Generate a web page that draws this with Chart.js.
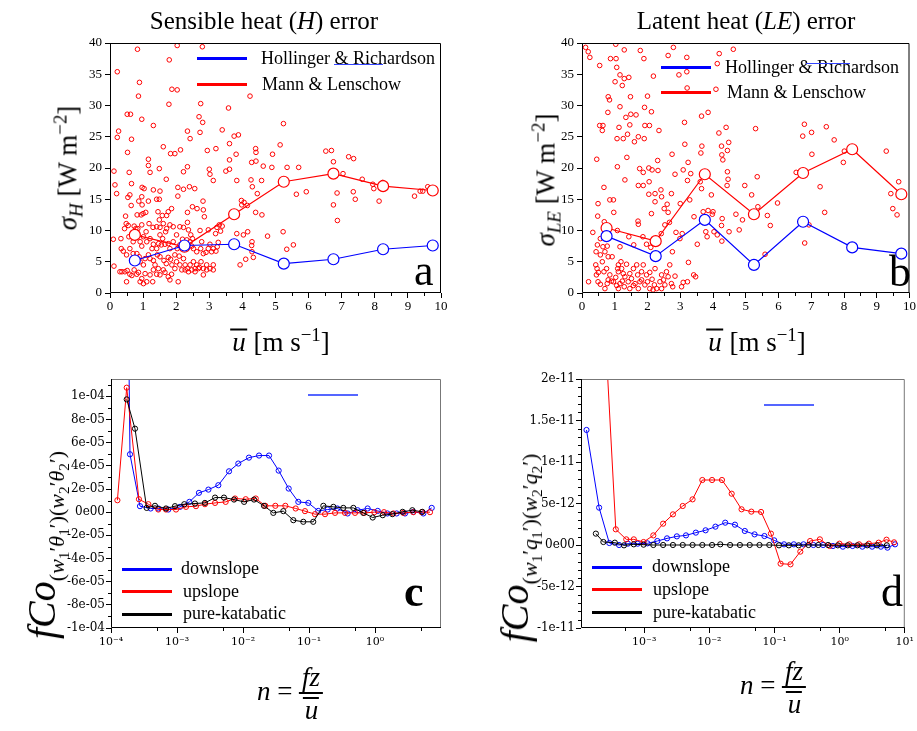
<!DOCTYPE html>
<html>
<head>
<meta charset="utf-8">
<script src="https://cdn.jsdelivr.net/npm/chart.js@4.4.0/dist/chart.umd.min.js"></script>
<style>
body{margin:0;background:#fff;width:917px;height:731px;position:relative;overflow:hidden;font-family:'Liberation Serif',serif;color:#000}
canvas{position:absolute}
.t{position:absolute;white-space:nowrap;line-height:1}
.c{transform:translate(-50%,-50%)}
.r{transform:translate(-50%,-50%) rotate(-90deg)}
.l{transform:translate(0,-50%)}
.key{position:absolute;height:3px;width:50px}
.thin{position:absolute;height:1px}
sub,sup{font-size:0.7em;line-height:0}
.frac{display:inline-flex;flex-direction:column;align-items:center;vertical-align:middle}
.frac .num{border-bottom:2px solid #000;padding:0 3px 1px;line-height:1}
.frac .den{line-height:1;padding-top:3px}
.ub{display:inline-block;border-top:2px solid #000;line-height:0.7;padding:2px 1px 0 2px}
</style>
</head>
<body>
<canvas id="chartA" width="458" height="300" style="left:0;top:30px"></canvas>
<canvas id="chartB" width="447" height="300" style="left:470px;top:30px"></canvas>
<canvas id="chartC" width="458" height="300" style="left:0;top:370px"></canvas>
<canvas id="chartD" width="447" height="300" style="left:470px;top:370px"></canvas>

<div class="t c" style="left:264px;top:20px;font-size:25px">Sensible heat (<i>H</i>) error</div>
<div class="t c" style="left:746px;top:20px;font-size:25px">Latent heat (<i>LE</i>) error</div>

<div class="t r" style="left:68px;top:168px;font-size:27px"><i>σ</i><sub><i>H</i></sub> [W m<sup>−2</sup>]</div>
<div class="t r" style="left:546px;top:180px;font-size:27px"><i>σ</i><sub><i>LE</i></sub> [W m<sup>−2</sup>]</div>
<div class="t c" style="left:280px;top:342px;font-size:27px"><i class="ub">u</i> [m s<sup>−1</sup>]</div>
<div class="t c" style="left:756px;top:342px;font-size:27px"><i class="ub">u</i> [m s<sup>−1</sup>]</div>

<div class="t r" style="left:42px;top:545px;font-size:40px"><i>fCo</i><span style="font-size:22px;position:relative;top:9px">(<i>w</i><sub>1</sub>′<i>θ</i><sub>1</sub>′)(<i>w</i><sub>2</sub>′<i>θ</i><sub>2</sub>′)</span></div>
<div class="t r" style="left:515px;top:548px;font-size:40px"><i>fCo</i><span style="font-size:22px;position:relative;top:9px">(<i>w</i><sub>1</sub>′<i>q</i><sub>1</sub>′)(<i>w</i><sub>2</sub>′<i>q</i><sub>2</sub>′)</span></div>
<div class="t c" style="left:290px;top:694px;font-size:27px"><i>n</i> = <span class="frac"><span class="num"><i>fz</i></span><span class="den"><i class="ub">u</i></span></span></div>
<div class="t c" style="left:773px;top:688px;font-size:27px"><i>n</i> = <span class="frac"><span class="num"><i>fz</i></span><span class="den"><i class="ub">u</i></span></span></div>

<div class="key" style="left:197px;top:57px;background:#0000ff"></div>
<div class="t l" style="left:261px;top:58px;font-size:18px">Hollinger &amp; Richardson</div>
<div class="thin" style="left:334px;top:64px;width:49px;background:#3344ff"></div>
<div class="key" style="left:197px;top:83px;background:#ff0000"></div>
<div class="t l" style="left:262px;top:84px;font-size:18px">Mann &amp; Lenschow</div>

<div class="key" style="left:661px;top:66px;background:#0000ff"></div>
<div class="t l" style="left:725px;top:67px;font-size:18px">Hollinger &amp; Richardson</div>
<div class="thin" style="left:806px;top:63px;width:44px;background:#3344ff"></div>
<div class="key" style="left:661px;top:91px;background:#ff0000"></div>
<div class="t l" style="left:727px;top:92px;font-size:18px">Mann &amp; Lenschow</div>

<div class="key" style="left:122px;top:568px;background:#0000ff"></div>
<div class="t l" style="left:181px;top:568px;font-size:18px">downslope</div>
<div class="key" style="left:122px;top:590px;background:#ff0000"></div>
<div class="t l" style="left:183px;top:591px;font-size:18px">upslope</div>
<div class="key" style="left:122px;top:613px;background:#000"></div>
<div class="t l" style="left:183px;top:613px;font-size:18px">pure-katabatic</div>
<div class="thin" style="left:308px;top:394px;width:50px;height:2px;background:#5566ff"></div>

<div class="key" style="left:592px;top:566px;background:#0000ff"></div>
<div class="t l" style="left:652px;top:566px;font-size:18px">downslope</div>
<div class="key" style="left:592px;top:588px;background:#ff0000"></div>
<div class="t l" style="left:653px;top:589px;font-size:18px">upslope</div>
<div class="key" style="left:592px;top:611px;background:#000"></div>
<div class="t l" style="left:653px;top:612px;font-size:18px">pure-katabatic</div>
<div class="thin" style="left:764px;top:404px;width:50px;height:2px;background:#5566ff"></div>

<div class="t" style="left:414px;top:249px;font-size:44px">a</div>
<div class="t" style="left:889px;top:250px;font-size:44px">b</div>
<div class="t" style="left:404px;top:570px;font-size:44px;font-weight:bold">c</div>
<div class="t" style="left:881px;top:570px;font-size:44px">d</div>

<script>
// bin centres of the averaged curves (wind speed, m/s)
var binU = [0.75, 2.25, 3.75, 5.25, 6.75, 8.25, 9.75];
var aHollinger = [5.2, 7.6, 7.8, 4.7, 5.4, 7.0, 7.6];
var aMann = [9.3, 7.4, 12.6, 17.8, 19.1, 17.1, 16.4];
var bHollinger = [9.1, 5.9, 11.7, 4.5, 11.4, 7.3, 6.3];
var bMann = [10.4, 8.3, 19.0, 12.6, 19.2, 23.0, 15.8];

// individual runs [u, sigma]
var aRuns = [[0.83,39.0],[2.03,39.6],[2.79,39.4],[0.22,35.4],[1.79,37.3],[0.89,33.7],[0.86,31.5],[1.87,32.6],[2.03,32.5],[0.96,27.8],[1.78,30.2],[2.74,30.3],[3.58,29.6],[4.23,31.5],[0.52,28.6],[0.62,28.6],[0.26,25.9],[0.22,24.9],[1.31,26.8],[0.65,24.6],[2.34,25.9],[2.42,24.7],[2.72,25.7],[2.80,27.3],[2.69,28.2],[3.39,26.1],[3.75,25.1],[3.88,25.3],[3.61,23.9],[5.14,23.7],[5.24,27.1],[4.40,23.1],[4.41,22.5],[4.28,20.9],[4.41,21.1],[0.53,22.5],[1.61,23.4],[1.83,22.3],[1.96,22.3],[2.13,22.9],[2.94,22.8],[3.20,23.1],[4.91,22.2],[6.52,22.7],[6.69,22.8],[7.21,21.8],[7.36,21.5],[3.81,22.2],[3.61,21.3],[0.12,19.5],[0.58,19.3],[1.16,21.4],[1.16,20.4],[1.21,19.3],[1.49,19.9],[1.70,18.2],[2.22,19.4],[2.34,20.2],[3.00,19.8],[3.02,19.0],[3.12,18.0],[3.50,19.5],[3.61,19.8],[3.83,18.0],[4.26,18.1],[4.30,17.0],[4.58,18.0],[4.63,20.3],[4.89,20.1],[5.35,20.1],[5.70,20.1],[6.75,21.0],[7.04,19.1],[7.62,18.2],[7.94,17.4],[7.97,16.7],[8.24,17.7],[7.35,16.2],[7.41,15.0],[0.15,17.3],[0.20,15.9],[0.10,8.6],[0.12,4.3],[0.65,17.5],[0.54,15.3],[0.60,15.7],[0.64,14.0],[0.97,16.9],[1.03,16.7],[0.96,15.4],[0.97,14.1],[1.31,16.5],[0.87,14.7],[0.82,12.5],[0.94,12.5],[1.00,12.7],[1.08,12.9],[1.16,14.7],[1.41,15.0],[1.49,15.0],[1.51,16.3],[1.45,13.0],[1.58,12.4],[1.71,12.4],[1.76,13.0],[1.86,13.5],[2.05,16.9],[2.05,15.5],[2.22,16.6],[2.34,12.9],[2.49,13.8],[2.63,13.5],[2.81,14.7],[2.82,13.3],[2.85,12.2],[2.40,17.0],[2.56,16.7],[4.05,14.5],[3.97,14.8],[3.98,14.1],[4.15,14.0],[4.45,15.9],[4.40,12.9],[4.59,12.5],[5.63,15.8],[5.93,16.2],[6.75,14.1],[6.86,16.0],[6.87,11.6],[8.13,14.7],[9.20,15.5],[9.37,16.3],[9.45,16.3],[9.60,17.0],
  [0.44,10.3],[0.47,12.3],[0.49,11.1],[0.55,10.8],[0.57,9.0],[0.73,10.7],[0.78,10.3],[0.84,10.3],[0.96,10.9],[1.09,9.8],[1.18,11.1],[1.30,10.5],[1.41,10.6],[1.51,10.5],[1.49,11.7],[1.61,11.1],[1.68,9.8],[1.71,10.3],[1.81,10.9],[1.91,10.6],[2.11,10.6],[2.22,10.5],[2.34,11.3],[2.37,10.1],[2.44,9.3],[2.49,8.7],[2.72,10.0],[2.97,10.1],[3.19,9.5],[3.23,10.5],[3.30,10.9],[3.34,9.9],[3.39,10.7],[3.83,9.5],[4.03,9.3],[4.16,9.8],[4.29,8.2],[4.28,7.6],[4.29,6.6],[4.76,9.1],[5.23,9.8],[5.54,7.7],[5.34,7.0],[4.33,5.7],[3.93,4.5],[4.10,5.4],
  [0.33,8.7],[0.34,7.1],[0.40,6.7],[0.50,6.1],[0.60,7.1],[0.70,8.2],[0.74,9.3],[0.84,9.4],[0.91,8.2],[0.96,7.5],[1.01,9.0],[1.11,8.2],[1.21,8.7],[1.27,7.1],[1.31,7.8],[1.41,7.1],[1.47,7.9],[1.51,9.3],[1.55,7.7],[1.59,8.7],[1.66,7.8],[1.76,7.9],[1.81,7.1],[1.91,8.2],[2.01,9.3],[2.03,7.1],[2.11,7.7],[2.19,8.6],[2.32,8.5],[2.42,8.2],[2.47,7.5],[2.52,7.1],[2.62,6.6],[2.74,7.1],[2.77,8.2],[2.82,6.3],[2.90,6.5],[2.97,7.1],[3.02,7.8],[3.07,6.6],[3.12,7.1],[3.20,6.7],[3.24,7.4],[3.27,8.1],[0.70,6.3],[0.81,6.3],[0.88,5.8],[0.91,5.0],[1.01,4.5],[1.06,5.5],[1.16,6.1],[1.21,5.5],[1.31,5.2],[1.36,4.5],[1.43,6.1],[1.51,5.8],[1.63,5.2],[1.70,4.7],[1.76,5.7],[1.83,5.4],[1.87,4.5],[1.96,6.1],[2.01,5.0],[2.09,5.9],[2.11,4.5],[2.22,5.5],[2.27,4.5],[2.34,3.9],[2.42,4.5],[2.52,5.0],[2.57,3.9],[2.62,4.5],[2.70,4.1],[2.75,5.0],[2.82,3.9],[2.92,4.5],[3.02,3.9],[3.12,4.5],[0.30,3.4],[0.36,3.4],[0.45,3.4],[0.50,1.8],[0.52,3.6],[0.60,3.0],[0.66,2.8],[0.73,3.7],[0.81,3.0],[0.86,3.3],[0.91,1.8],[1.01,1.5],[0.96,2.3],[1.06,3.1],[1.11,1.8],[1.21,2.9],[1.29,1.8],[1.31,3.7],[1.41,3.0],[1.46,3.9],[1.51,2.9],[1.61,3.7],[1.66,3.3],[1.76,2.6],[1.81,2.1],[1.86,3.0],[1.96,3.9],[2.06,1.8],[2.17,3.7],[2.27,3.7],[2.37,3.4],[2.47,3.7],[2.57,3.4],[2.67,3.9],[2.82,2.9],[2.92,3.7],[3.12,3.7]];

var bRuns = [[0.11,39.3],[0.19,38.6],[0.24,37.7],[0.54,36.4],[1.03,39.8],[1.29,38.9],[1.78,38.8],[1.89,37.5],[2.79,39.3],[2.63,38.0],[3.20,37.7],[4.13,36.7],[4.19,38.3],[4.62,39.0],[0.87,37.5],[1.04,37.5],[1.06,36.1],[1.16,34.9],[1.01,33.8],[1.23,33.2],[1.29,34.3],[1.43,34.5],[1.48,31.4],[0.80,31.4],[0.84,30.9],[0.79,28.9],[2.00,31.5],[2.12,29.0],[1.91,29.7],[1.65,28.5],[1.49,28.6],[1.34,28.1],[1.16,29.8],[2.18,34.7],[2.96,34.9],[3.20,35.4],[3.21,32.8],[4.09,32.6],[3.65,28.3],[3.85,28.9],[3.13,27.3],[4.18,25.6],[4.40,26.5],[0.54,26.8],[0.64,26.8],[0.62,26.0],[1.13,26.5],[1.07,24.7],[1.26,24.7],[1.39,25.4],[1.46,26.9],[1.60,24.2],[1.72,25.0],[1.92,26.8],[2.06,26.8],[1.90,24.7],[2.35,26.0],[4.48,24.1],[4.44,22.8],[4.26,23.5],[4.27,22.1],[4.30,21.3],[5.30,26.3],[6.79,27.0],[6.74,25.1],[7.01,25.7],[7.46,26.6],[7.70,24.5],[9.29,22.7],[7.02,22.2],[8.01,22.7],[7.98,20.9],[0.45,21.4],[1.37,21.7],[1.08,20.2],[1.31,18.1],[1.76,19.9],[1.87,19.3],[2.04,20.0],[2.14,19.7],[2.31,21.2],[2.32,19.6],[2.75,22.2],[2.84,19.0],[3.09,19.7],[3.14,23.8],[3.24,20.9],[3.22,18.0],[3.32,19.1],[3.63,22.4],[3.66,23.5],[3.61,17.8],[4.44,19.4],[4.46,18.2],[4.97,17.2],[5.35,18.6],[6.54,19.3],[7.27,17.0],[9.43,15.9],[9.67,17.8],[0.67,16.9],[0.85,14.9],[0.96,14.9],[0.49,14.3],[0.48,12.3],[0.97,12.9],[1.72,17.2],[1.87,17.2],[2.05,17.8],[2.04,15.8],[2.23,15.9],[2.41,16.5],[2.43,15.4],[2.23,14.6],[2.12,12.7],[2.51,13.5],[2.63,12.9],[2.60,14.2],[2.73,15.9],[3.00,14.3],[3.29,14.9],[3.42,12.2],[3.65,16.7],[3.70,13.0],[3.95,15.7],[4.00,13.0],[4.26,10.8],[4.28,11.9],[4.43,17.2],[4.70,12.6],[4.90,11.7],[5.18,15.7],[5.37,13.8],[5.66,12.4],[5.75,10.8],[5.97,14.4],[7.41,12.9],[9.49,13.5],[9.62,12.5],[6.80,8.0],[5.59,6.2],[6.93,10.9],[0.33,9.7],[0.47,7.7],[0.56,8.7],[0.64,7.4],[0.77,7.5],[0.81,10.1],[0.68,11.4],[1.08,10.0],[1.16,7.4],[1.43,9.0],[1.58,7.7],[1.71,11.5],[1.72,11.0],[1.86,9.0],[1.97,7.8],[2.10,7.3],[2.42,9.5],[2.53,10.9],[2.67,11.3],[2.87,9.7],[2.99,8.7],[2.76,6.6],[3.06,9.5],[3.25,4.9],[3.52,7.8],[3.78,9.8],[3.82,9.0],[4.03,9.8],[4.13,9.3],[4.27,8.3],[4.49,9.8],[4.80,10.1],[3.85,13.2],[3.98,12.6],
  [0.42,4.5],[0.46,3.9],[0.50,3.3],[0.44,2.9],[0.62,5.0],[0.67,3.4],[0.75,3.9],[0.80,2.1],[0.85,2.9],[0.90,1.9],[0.92,5.8],[0.96,1.8],[1.03,2.5],[1.09,3.9],[1.11,4.5],[1.19,5.0],[1.21,3.9],[1.26,3.1],[1.31,2.6],[1.36,4.6],[1.41,1.8],[1.46,3.1],[1.51,2.3],[1.57,3.9],[1.62,1.5],[1.67,4.5],[1.70,2.9],[1.77,1.8],[1.82,3.4],[1.87,4.5],[1.92,1.3],[1.97,2.9],[2.00,1.8],[2.07,3.3],[2.14,2.2],[2.21,1.3],[2.23,3.9],[2.28,0.7],[2.38,1.8],[2.43,2.9],[2.49,2.1],[2.58,3.4],[2.63,2.6],[2.68,4.5],[2.77,1.0],[2.84,2.7],[3.04,1.0],[3.09,1.7],[3.22,1.8],[3.41,2.9],[3.47,2.6],[0.20,1.8],[0.49,1.8],[0.56,1.4],[0.70,0.7],[0.77,1.5],[1.06,1.2],[1.11,0.7],[1.16,1.5],[1.23,1.9],[1.29,1.0],[1.46,0.7],[1.57,1.2],[1.72,0.7],[1.82,2.1],[2.07,0.7],[2.17,0.5],[2.43,0.7],[2.53,1.3],[2.73,1.5],[0.70,6.6],[0.80,5.8],[1.11,3.4],[0.43,6.6],[0.56,6.1]];

// co-spectra, panel c (heat flux)
var cDownN = [1.73e-4, 1.94e-4, 2.75e-4, 3.99e-4, 5.21e-4, 7.39e-4, 1.11e-3, 1.54e-3, 2.15e-3, 2.99e-3, 4.23e-3, 6.14e-3, 8.49e-3, 1.23e-2, 1.75e-2, 2.48e-2, 3.47e-2, 4.92e-2, 6.89e-2, 9.77e-2, 0.138, 0.192, 0.269, 0.385, 0.546, 0.774, 1.10, 1.54, 2.13, 2.85, 3.81, 5.40, 7.23];
var cDownV = [30e-5, 5.0e-5, 0.52e-5, 0.32e-5, 0.32e-5, 0.23e-5, 0.46e-5, 0.89e-5, 1.67e-5, 1.95e-5, 2.33e-5, 3.53e-5, 4.20e-5, 4.71e-5, 4.89e-5, 4.89e-5, 3.59e-5, 2.04e-5, 0.89e-5, 0.80e-5, 0.11e-5, 0.23e-5, 0.32e-5, -0.11e-5, 0.17e-5, 0.32e-5, 0.11e-5, -0.11e-5, -0.11e-5, -0.11e-5, 0.03e-5, -0.11e-5, 0.37e-5];
var cUpN = [1.25e-4, 1.73e-4, 2.65e-4, 3.68e-4, 5.21e-4, 6.81e-4, 9.66e-4, 1.37e-3, 1.94e-3, 2.65e-3, 3.77e-3, 5.46e-3, 7.57e-3, 1.10e-2, 1.56e-2, 2.18e-2, 3.09e-2, 4.38e-2, 6.28e-2, 8.69e-2, 0.123, 0.175, 0.248, 0.351, 0.498, 0.689, 0.977, 1.37, 1.90, 2.69, 3.81, 5.09, 6.81];
var cUpV = [1.03e-5, 10.75e-5, 1.12e-5, 0.69e-5, 0.23e-5, 0.23e-5, 0.23e-5, 0.46e-5, 0.52e-5, 0.69e-5, 0.80e-5, 0.89e-5, 1.18e-5, 1.12e-5, 1.18e-5, 0.55e-5, 0.55e-5, 0.55e-5, 0.32e-5, 0.09e-5, -0.17e-5, -0.17e-5, -0.06e-5, -0.06e-5, -0.06e-5, -0.06e-5, 0, 0, -0.11e-5, -0.06e-5, 0, 0, 0];
var cKatN = [1.73e-4, 2.31e-4, 3.47e-4, 4.64e-4, 6.81e-4, 9.33e-4, 1.29e-3, 1.87e-3, 2.65e-3, 3.77e-3, 5.15e-3, 7.31e-3, 1.04e-2, 1.47e-2, 2.08e-2, 2.88e-2, 4.08e-2, 5.79e-2, 8.20e-2, 0.116, 0.165, 0.234, 0.331, 0.470, 0.665, 0.923, 1.31, 1.83, 2.62, 3.68, 5.21];
var cKatV = [9.74e-5, 7.21e-5, 0.37e-5, 0.55e-5, 0.32e-5, 0.52e-5, 0.69e-5, 0.75e-5, 0.80e-5, 1.26e-5, 1.26e-5, 1.09e-5, 0.89e-5, 1.09e-5, 0.55e-5, -0.06e-5, 0.09e-5, -0.69e-5, -0.83e-5, -0.83e-5, 0.55e-5, 0.46e-5, 0.37e-5, 0.37e-5, -0.06e-5, -0.46e-5, -0.26e-5, -0.17e-5, 0.03e-5, 0.17e-5, 0.03e-5];

// co-spectra, panel d (moisture flux)
var dDownN = [1.30e-4, 2.03e-4, 2.91e-4, 4.11e-4, 5.61e-4, 7.94e-4, 1.12e-3, 1.59e-3, 2.24e-3, 3.17e-3, 4.38e-3, 6.20e-3, 8.75e-3, 1.24e-2, 1.75e-2, 2.47e-2, 3.50e-2, 4.94e-2, 7.00e-2, 9.89e-2, 0.140, 0.198, 0.279, 0.395, 0.558, 0.789, 1.12, 1.58, 2.23, 3.15, 4.30, 5.42, 7.08];
var dDownV = [13.86e-12, 4.50e-12, 0.24e-12, 0, 0.16e-12, 0.16e-12, 0.20e-12, 0.48e-12, 0.80e-12, 1.04e-12, 1.16e-12, 1.49e-12, 1.77e-12, 2.21e-12, 2.69e-12, 2.45e-12, 1.69e-12, 1.28e-12, 1.08e-12, 0.56e-12, 0.08e-12, 0.08e-12, 0.08e-12, 0, 0, -0.12e-12, -0.20e-12, -0.12e-12, -0.20e-12, -0.20e-12, -0.20e-12, -0.32e-12, 0.08e-12];
var dUpN = [2.59e-4, 3.66e-4, 5.30e-4, 6.92e-4, 9.77e-4, 1.38e-3, 1.95e-3, 2.76e-3, 3.90e-3, 5.52e-3, 7.80e-3, 1.10e-2, 1.56e-2, 2.20e-2, 3.12e-2, 4.41e-2, 6.22e-2, 8.81e-2, 0.124, 0.176, 0.249, 0.352, 0.497, 0.703, 0.993, 1.41, 1.99, 2.81, 3.97, 5.24, 6.84];
var dUpV = [24e-12, 1.89e-12, 0.68e-12, 0.68e-12, 0.36e-12, 1.16e-12, 2.57e-12, 3.69e-12, 4.70e-12, 5.50e-12, 7.83e-12, 7.83e-12, 7.83e-12, 6.18e-12, 4.30e-12, 4.02e-12, 3.98e-12, 1.37e-12, -2.25e-12, -2.33e-12, -0.80e-12, 0.48e-12, 0.68e-12, -0.12e-12, 0.16e-12, 0.08e-12, 0.08e-12, 0.16e-12, 0.28e-12, 0.64e-12, 0.32e-12];
var dKatN = [1.81e-4, 2.36e-4, 3.54e-4, 4.89e-4, 6.92e-4, 9.77e-4, 1.38e-3, 1.95e-3, 2.76e-3, 3.90e-3, 5.52e-3, 7.80e-3, 1.10e-2, 1.47e-2, 2.08e-2, 2.94e-2, 4.16e-2, 5.88e-2, 8.32e-2, 0.117, 0.166, 0.235, 0.332, 0.470, 0.664, 0.938, 1.33, 1.87, 2.65, 3.75, 5.30];
var dKatV = [1.37e-12, 0.36e-12, 0.28e-12, -0.04e-12, 0.08e-12, 0.04e-12, 0, 0, 0, 0, 0, 0, 0, 0.08e-12, 0, 0, 0, 0, 0, -0.04e-12, -0.04e-12, -0.04e-12, 0, 0, 0, -0.04e-12, -0.04e-12, -0.04e-12, -0.04e-12, -0.04e-12, -0.04e-12];

// tick values
var uTicks = [0,1,2,3,4,5,6,7,8,9,10];
var sigmaTicks = [0,5,10,15,20,25,30,35,40];
var cXTicks = [1e-4, 1e-3, 1e-2, 1e-1, 1];
var dXTicks = [1e-3, 1e-2, 1e-1, 1, 10];
var cYTicks = [-1e-4, -8e-5, -6e-5, -4e-5, -2e-5, 0, 2e-5, 4e-5, 6e-5, 8e-5, 1e-4];
var dYTicks = [-1e-11, -5e-12, 0, 5e-12, 1e-11, 1.5e-11, 2e-11];

var SUP = {'-4':'⁻⁴','-3':'⁻³','-2':'⁻²','-1':'⁻¹','0':'⁰','1':'¹'};

function pts(xs, ys) { return xs.map(function(x, i) { return {x: x, y: ys[i]}; }); }
function pairs(arr) { return arr.map(function(p) { return {x: p[0], y: p[1]}; }); }
function sci(v) {
  if (v === 0) return '0e00';
  var e = Math.floor(Math.log10(Math.abs(v)) + 1e-9);
  var m = +(v / Math.pow(10, e)).toFixed(2);
  return m + 'e' + (e < 0 ? '-' : '') + String(Math.abs(e)).padStart(2, '0');
}
function dec(v) { var e = Math.round(Math.log10(v)); return '10' + SUP[String(e)]; }

// frame + minor ticks
Chart.register({
  id: 'frame',
  afterDraw: function(chart, args, o) {
    var ctx = chart.ctx, a = chart.chartArea, sx = chart.scales.x, sy = chart.scales.y;
    ctx.save();
    ctx.lineWidth = 1;
    ctx.strokeStyle = '#000';
    ctx.beginPath();
    (o.xMinor || []).forEach(function(v) {
      var x = Math.round(sx.getPixelForValue(v)) + 0.5;
      ctx.moveTo(x, a.bottom); ctx.lineTo(x, a.bottom + 3);
    });
    (o.yMinor || []).forEach(function(v) {
      var y = Math.round(sy.getPixelForValue(v)) + 0.5;
      ctx.moveTo(a.left, y); ctx.lineTo(a.left - 3, y);
    });
    ctx.stroke();
    ctx.strokeStyle = o.far || '#000';
    ctx.beginPath();
    ctx.moveTo(a.left, a.top + 0.5); ctx.lineTo(a.right - 0.5, a.top + 0.5); ctx.lineTo(a.right - 0.5, a.bottom);
    ctx.stroke();
    ctx.strokeStyle = '#000';
    ctx.beginPath();
    ctx.moveTo(a.left + 0.5, a.top); ctx.lineTo(a.left + 0.5, a.bottom - 0.5); ctx.lineTo(a.right, a.bottom - 0.5);
    ctx.stroke();
    ctx.restore();
  }
});

function axis(opts) {
  return {
    type: opts.type || 'linear',
    min: opts.min, max: opts.max,
    afterBuildTicks: function(s) { s.ticks = opts.ticks.map(function(v) { return {value: v}; }); },
    afterFit: function(s) { if (opts.w) s.width = opts.w; if (opts.h) s.height = opts.h; },
    grid: {drawOnChartArea: false, color: '#000', tickLength: 5},
    border: {display: false},
    ticks: {color: '#000', autoSkip: false, maxRotation: 0, padding: opts.pad || 2,
            font: {family: opts.font, size: opts.size}, callback: opts.fmt}
  };
}

function errorChart(id, runs, hr, ml, yw, pad) {
  return new Chart(document.getElementById(id), {
    type: 'scatter',
    data: {datasets: [
      {data: pts(binU, hr), showLine: true, borderColor: '#0000ff', borderWidth: 1.2, pointRadius: 5.5,
       pointBorderColor: '#0000ff', pointBackgroundColor: '#fff', pointBorderWidth: 1.2, order: 1},
      {data: pts(binU, ml), showLine: true, borderColor: '#ff0000', borderWidth: 1.2, pointRadius: 5.5,
       pointBorderColor: '#ff0000', pointBackgroundColor: '#fff', pointBorderWidth: 1.2, order: 2},
      {data: pairs(runs), pointRadius: 2.3, pointBorderColor: '#ff0000', pointBackgroundColor: 'rgba(0,0,0,0)',
       pointBorderWidth: 1, order: 3}
    ]},
    options: {
      responsive: false, animation: false, events: [],
      layout: {padding: pad, autoPadding: false},
      plugins: {legend: {display: false}, tooltip: {enabled: false},
                frame: {xMinor: [0.5,1.5,2.5,3.5,4.5,5.5,6.5,7.5,8.5,9.5]}},
      scales: {
        x: axis({min: 0, max: 10, ticks: uTicks, h: 30, font: 'Liberation Serif', size: 13, pad: 1,
                 fmt: function(v) { return String(v); }}),
        y: axis({min: 0, max: 40, ticks: sigmaTicks, w: yw, font: 'Liberation Serif', size: 13, pad: 3,
                 fmt: function(v) { return String(v); }})
      }
    }
  });
}

function spectrumChart(id, series, xmin, xmax, xt, ymin, ymax, yt, yMinor, pad) {
  var colors = ['#0000ff', '#ff0000', '#000000'];
  return new Chart(document.getElementById(id), {
    type: 'scatter',
    data: {datasets: series.map(function(s, i) {
      return {data: pts(s[0], s[1]), showLine: true, borderColor: colors[i], borderWidth: 1,
              pointRadius: 2.6, pointBorderColor: colors[i], pointBackgroundColor: 'rgba(0,0,0,0)',
              pointBorderWidth: 1, order: 3 - i};
    })},
    options: {
      responsive: false, animation: false, events: [],
      layout: {padding: pad, autoPadding: false},
      plugins: {legend: {display: false}, tooltip: {enabled: false},
                frame: {far: '#777', xMinor: [5e-4, 5e-3, 5e-2, 0.5, 5], yMinor: yMinor}},
      scales: {
        x: axis({type: 'logarithmic', min: xmin, max: xmax, ticks: xt, h: 30, font: 'DejaVu Serif', size: 11, pad: 3, fmt: dec}),
        y: axis({min: ymin, max: ymax, ticks: yt, w: 111, font: 'DejaVu Serif', size: 12, pad: 1, fmt: sci})
      }
    }
  });
}

errorChart('chartA', aRuns, aHollinger, aMann, 110, {top: 13, right: 17, bottom: 7, left: 0});
errorChart('chartB', bRuns, bHollinger, bMann, 112, {top: 13, right: 7, bottom: 7, left: 0});

var cMinor = [-9e-5, -7e-5, -5e-5, -3e-5, -1e-5, 1e-5, 3e-5, 5e-5, 7e-5, 9e-5, 1.1e-4];
var dMinor = [];
for (var k = -9; k <= 19; k++) { if (k % 5 !== 0) dMinor.push(k * 1e-12); }

spectrumChart('chartC', [[cDownN, cDownV], [cUpN, cUpV], [cKatN, cKatV]],
  1e-4, 10, cXTicks, -1e-4, 1.15e-4, cYTicks, cMinor, {top: 9, right: 17, bottom: 12, left: 0});
spectrumChart('chartD', [[dDownN, dDownV], [dUpN, dUpV], [dKatN, dKatV]],
  1.07e-4, 10, dXTicks, -1e-11, 2e-11, dYTicks, dMinor, {top: 9, right: 6, bottom: 12, left: 0});
</script>
</body>
</html>
